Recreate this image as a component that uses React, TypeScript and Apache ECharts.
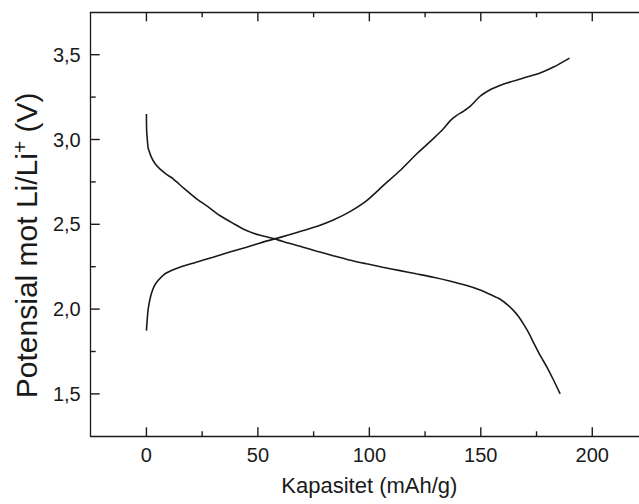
import React, { useEffect, useRef } from "react";
import * as echarts from "echarts";

const dischargeCap = [0, 0.1, 0.4, 0.7, 1.0, 2.2, 4.0, 6.0, 9.0, 12, 17, 22.5, 28, 32.9, 39, 44.9, 51, 57.6, 64, 70.3, 76, 83, 91, 98.8, 106, 113.8, 121, 128.7, 136, 143.7, 149.7, 154, 158.7, 162, 164.7, 167, 169.1, 171.5, 173.6, 176.5, 179.7, 182.5, 185.6];
const dischargeV = [3.15, 3.05, 3.0, 2.955, 2.94, 2.896, 2.855, 2.827, 2.795, 2.768, 2.71, 2.65, 2.6, 2.552, 2.505, 2.463, 2.435, 2.414, 2.388, 2.365, 2.343, 2.318, 2.29, 2.267, 2.247, 2.227, 2.208, 2.188, 2.166, 2.139, 2.113, 2.088, 2.058, 2.025, 1.991, 1.955, 1.913, 1.86, 1.804, 1.73, 1.657, 1.585, 1.5];

const chargeCap = [0, 0.3, 0.7, 1.3, 2.2, 3.5, 5.2, 8, 11.2, 15, 22, 29.9, 37, 44.9, 51, 57.6, 64, 70.3, 77, 83.8, 91.3, 98.8, 106.3, 113.8, 121.3, 128.7, 133, 136.2, 139.2, 142, 145.2, 149.7, 154.2, 158, 161.7, 169.1, 176.6, 182.6, 189.8];
const chargeV = [1.873, 1.93, 1.991, 2.04, 2.09, 2.135, 2.168, 2.205, 2.227, 2.247, 2.275, 2.306, 2.335, 2.365, 2.39, 2.414, 2.438, 2.463, 2.49, 2.525, 2.575, 2.64, 2.729, 2.817, 2.916, 3.005, 3.06, 3.11, 3.142, 3.165, 3.195, 3.255, 3.293, 3.315, 3.333, 3.362, 3.392, 3.427, 3.48];

const xMajorTicks = [0, 50, 100, 150, 200];
const xMinorTicks = [25, 75, 125, 175];
const yMajorTicks = [1.5, 2.0, 2.5, 3.0, 3.5];
const yMinorTicks = [1.75, 2.25, 2.75, 3.25];
const X_MIN = -25, X_MAX = 225, Y_MIN = 1.25, Y_MAX = 3.75;

const FONT = "'Liberation Sans', Arial, sans-serif";
const INK = "#1a1a1a";
const MAJOR_LEN = 9;
const MINOR_LEN = 5;

export default function App() {
  const ref = useRef<HTMLDivElement>(null);
  useEffect(() => {
    document.body.style.margin = "0";
    document.body.style.overflow = "hidden";
    document.documentElement.style.overflow = "hidden";
    const chart = echarts.init(ref.current!, null, { renderer: "svg" });
    const pair = (xs: number[], ys: number[]) => xs.map((x, i) => [x, ys[i]]);
    const mkLine = () => ({ show: true, onZero: false, lineStyle: { color: INK, width: 1.3 } });
    const labelStyle = { color: INK, fontFamily: FONT, fontSize: 20 };
    const isMult = (v: number, step: number) => Math.abs(v / step - Math.round(v / step)) < 1e-6;

    chart.setOption({
      animation: false,
      grid: [{ left: 90.7, top: 12.3, width: 557.3, height: 424 }],
      xAxis: [
        {
          type: "value", position: "bottom", min: X_MIN, max: X_MAX, interval: 25,
          axisLine: mkLine(), axisTick: { show: false }, splitLine: { show: false },
          axisLabel: { ...labelStyle, margin: 9, formatter: (v: number) => (isMult(v, 50) && v >= 0 && v <= 200 ? String(v) : "") },
          name: "Kapasitet (mAh/g)", nameLocation: "middle", nameGap: 38,
          nameTextStyle: { color: INK, fontFamily: FONT, fontSize: 22 },
        },
        {
          type: "value", position: "top", min: X_MIN, max: X_MAX, interval: 25,
          axisLine: mkLine(), axisTick: { show: false }, axisLabel: { show: false }, splitLine: { show: false },
        },
      ],
      yAxis: [
        {
          type: "value", position: "left", min: Y_MIN, max: Y_MAX, interval: 0.25,
          axisLine: mkLine(), axisTick: { show: false }, splitLine: { show: false },
          axisLabel: { ...labelStyle, margin: 10, formatter: (v: number) => (isMult(v, 0.5) ? v.toFixed(1).replace(".", ",") : "") },
          name: "{a|Potensial mot Li/Li}{s|+}{a| (V)}", nameLocation: "middle", nameRotate: 90, nameGap: 46,
          nameTextStyle: {
            color: INK, fontFamily: FONT, fontSize: 30, padding: [0, 42, 0, 0],
            rich: {
              a: { color: INK, fontFamily: FONT, fontSize: 30 },
              s: { color: INK, fontFamily: FONT, fontSize: 21, verticalAlign: "top", padding: [0, 0, 14, 0] },
            },
          },
        },
        {
          type: "value", position: "right", min: Y_MIN, max: Y_MAX, interval: 0.25,
          axisLine: mkLine(), axisTick: { show: false }, axisLabel: { show: false }, splitLine: { show: false },
        },
      ],
      series: [
        {
          type: "line", xAxisIndex: 0, yAxisIndex: 0, data: pair(dischargeCap, dischargeV),
          showSymbol: false, smooth: 0.25, lineStyle: { color: INK, width: 1.6 },
        },
        {
          type: "line", xAxisIndex: 0, yAxisIndex: 0, data: pair(chargeCap, chargeV),
          showSymbol: false, smooth: 0.25, lineStyle: { color: INK, width: 1.6 },
        },
      ],
    });

    // Tick marks placed through the chart's own scales
    const toPx = (v: number[]) => chart.convertToPixel({ xAxisIndex: 0, yAxisIndex: 0 }, v) as number[];
    const stroke = { stroke: INK, lineWidth: 1.4 };
    const ticks: any[] = [];
    const addX = (v: number, len: number) => {
      const b = toPx([v, Y_MIN]);
      const t = toPx([v, Y_MAX]);
      ticks.push({ type: "line", shape: { x1: b[0], y1: b[1], x2: b[0], y2: b[1] - len }, style: stroke, silent: true, z: 50 });
      ticks.push({ type: "line", shape: { x1: t[0], y1: t[1], x2: t[0], y2: t[1] + len }, style: stroke, silent: true, z: 50 });
    };
    const addY = (v: number, len: number) => {
      const l = toPx([X_MIN, v]);
      const r = toPx([X_MAX, v]);
      ticks.push({ type: "line", shape: { x1: l[0], y1: l[1], x2: l[0] + len, y2: l[1] }, style: stroke, silent: true, z: 50 });
      ticks.push({ type: "line", shape: { x1: r[0], y1: r[1], x2: r[0] - len, y2: r[1] }, style: stroke, silent: true, z: 50 });
    };
    xMajorTicks.forEach((v) => addX(v, MAJOR_LEN));
    xMinorTicks.forEach((v) => addX(v, MINOR_LEN));
    yMajorTicks.forEach((v) => addY(v, MAJOR_LEN));
    yMinorTicks.forEach((v) => addY(v, MINOR_LEN));
    chart.setOption({ graphic: { elements: ticks } });

    return () => chart.dispose();
  }, []);
  return <div ref={ref} style={{ width: 660, height: 504 }} />;
}
